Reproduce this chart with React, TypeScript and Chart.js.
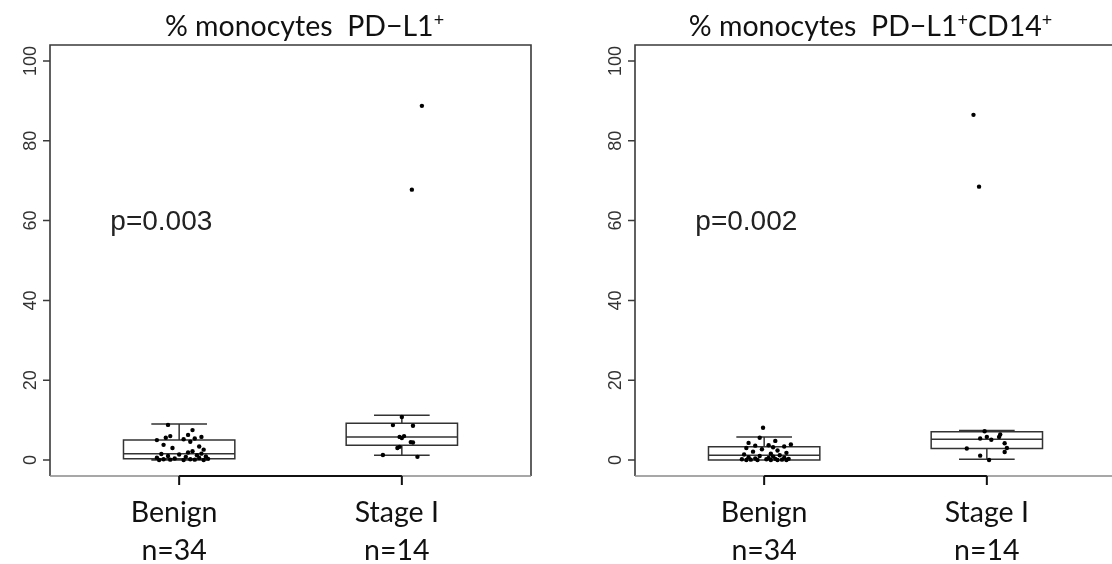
import React, { useEffect, useRef } from "react";
import { Chart, registerables } from "chart.js";

Chart.register(...registerables);

// ---------- data ----------
const categories = ["Benign", "Stage I"];
const groupSizes = ["n=34", "n=14"];
const yTicks = [0, 20, 40, 60, 80, 100];

// Panel 1: % monocytes PD-L1+
const p1BenignValues = [0, 0, 0, 0.1, 0.1, 0.2, 0.2, 0.3, 0.4, 0.5, 0.6, 0.8, 0.9, 1.0, 1.2, 1.4, 1.5, 1.6, 1.9, 2.2, 2.6, 3.0, 3.4, 3.8, 4.6, 5.0, 5.2, 5.4, 5.6, 5.8, 6.0, 6.3, 7.5, 8.8];
const p1BenignJitter = [-0.09, 0.02, 0.11, -0.04, 0.07, -0.07, 0.05, 0.13, -0.02, 0.09, -0.1, 0.03, 0.12, -0.05, 0.08, 0.0, -0.08, 0.1, 0.04, 0.06, 0.11, -0.03, 0.09, -0.07, 0.05, -0.1, 0.02, 0.07, -0.06, 0.1, -0.04, 0.04, 0.06, -0.05];
const p1StageValues = [0.8, 1.25, 3.0, 3.3, 4.4, 4.5, 5.5, 5.8, 6.0, 8.6, 8.75, 10.8, 67.75, 88.75];
const p1StageJitter = [0.07, -0.085, -0.02, -0.01, 0.05, 0.04, 0.0, -0.01, 0.01, 0.05, -0.04, 0.0, 0.045, 0.09];
// [lower whisker, Q1, median, Q3, upper whisker]
const p1BenignBox = [0, 0.3, 1.6, 5.0, 9.0];
const p1StageBox = [1.2, 3.7, 5.8, 9.2, 11.2];
const p1PValue = "p=0.003";

// Panel 2: % monocytes PD-L1+CD14+
const p2BenignValues = [0, 0, 0, 0, 0, 0.1, 0.1, 0.2, 0.2, 0.3, 0.3, 0.4, 0.5, 0.6, 0.7, 0.9, 1.0, 1.2, 1.4, 1.6, 1.8, 2.1, 2.4, 2.7, 3.0, 3.2, 3.4, 3.6, 3.7, 3.9, 4.3, 4.8, 5.6, 8.1];
const p2BenignJitter = [-0.08, 0.03, 0.1, -0.03, 0.06, -0.06, 0.08, 0.01, -0.1, 0.05, 0.11, -0.04, 0.02, 0.09, -0.07, 0.04, -0.02, 0.07, -0.09, 0.03, 0.1, -0.05, 0.06, -0.01, -0.08, 0.04, 0.09, -0.04, 0.02, 0.12, -0.07, 0.05, -0.02, -0.005];
const p2StageValues = [0, 1.1, 2.0, 2.9, 3.0, 4.2, 5.1, 5.4, 5.8, 5.8, 6.4, 7.2, 68.5, 86.5];
const p2StageJitter = [0.01, -0.03, 0.08, -0.09, 0.09, 0.08, 0.02, -0.03, 0.0, 0.055, 0.06, -0.01, -0.035, -0.06];
const p2BenignBox = [0, 0, 1.2, 3.3, 5.8];
const p2StageBox = [0.2, 2.9, 5.2, 7.1, 7.4];
const p2PValue = "p=0.002";

// ---------- drawing ----------
type Seg = { t: string; sup?: boolean };

interface PanelCfg {
  title: Seg[];
  titleShift: number;
  labelShift: number;
  benign: number[];
  benignJ: number[];
  stage: number[];
  stageJ: number[];
  boxes: number[][];
  pValue: string;
  padding: { left: number; right: number; top: number; bottom: number };
}

const TITLE_FONT = "Lato, 'Open Sans', sans-serif";
const BODY_FONT = "'Liberation Sans', Arial, sans-serif";

function panelPlugin(cfg: PanelCfg) {
  return {
    id: "rbox",
    beforeDatasetsDraw(chart: any) {
      const ctx: CanvasRenderingContext2D = chart.ctx;
      const { left, right, top, bottom } = chart.chartArea;
      const xs = chart.scales.x;
      const ys = chart.scales.y;
      ctx.save();
      // frame
      ctx.strokeStyle = "#3a3a3a";
      ctx.lineWidth = 1.6;
      ctx.beginPath();
      ctx.moveTo(left, bottom);
      ctx.lineTo(left, top);
      ctx.lineTo(right, top);
      ctx.lineTo(right, bottom);
      ctx.stroke();
      ctx.strokeStyle = "#8a8a8a";
      ctx.beginPath();
      ctx.moveTo(left, bottom);
      ctx.lineTo(right, bottom);
      ctx.stroke();
      // x axis (between first and last category)
      const x1 = xs.getPixelForValue(1);
      const x2 = xs.getPixelForValue(categories.length);
      ctx.strokeStyle = "#111";
      ctx.lineWidth = 2;
      ctx.beginPath();
      ctx.moveTo(x1, bottom);
      ctx.lineTo(x2, bottom);
      categories.forEach((_, i) => {
        const x = xs.getPixelForValue(i + 1);
        ctx.moveTo(x, bottom);
        ctx.lineTo(x, bottom + 9);
      });
      ctx.stroke();
      // y ticks
      ctx.strokeStyle = "#3a3a3a";
      ctx.lineWidth = 1.5;
      ctx.beginPath();
      yTicks.forEach((v) => {
        const y = ys.getPixelForValue(v);
        ctx.moveTo(left, y);
        ctx.lineTo(left - 7, y);
      });
      ctx.stroke();
      // boxes
      ctx.strokeStyle = "#333";
      ctx.lineWidth = 1.5;
      cfg.boxes.forEach((b, i) => {
        const c = i + 1;
        const bl = xs.getPixelForValue(c - 0.25);
        const br = xs.getPixelForValue(c + 0.25);
        const sl = xs.getPixelForValue(c - 0.125);
        const sr = xs.getPixelForValue(c + 0.125);
        const cx = xs.getPixelForValue(c);
        const [lw, q1, med, q3, uw] = b.map((v) => ys.getPixelForValue(v));
        ctx.fillStyle = "#fff";
        ctx.fillRect(bl, q3, br - bl, q1 - q3);
        ctx.beginPath();
        ctx.rect(bl, q3, br - bl, q1 - q3);
        ctx.moveTo(bl, med);
        ctx.lineTo(br, med);
        // whiskers
        ctx.moveTo(cx, q3);
        ctx.lineTo(cx, uw);
        ctx.moveTo(cx, q1);
        ctx.lineTo(cx, lw);
        ctx.moveTo(sl, uw);
        ctx.lineTo(sr, uw);
        ctx.moveTo(sl, lw);
        ctx.lineTo(sr, lw);
        ctx.stroke();
      });
      ctx.restore();
    },
    afterDraw(chart: any) {
      const ctx: CanvasRenderingContext2D = chart.ctx;
      const { left, right, top, bottom } = chart.chartArea;
      const xs = chart.scales.x;
      const ys = chart.scales.y;
      ctx.save();
      // y tick labels (rotated)
      ctx.fillStyle = "#333";
      ctx.font = `18px ${BODY_FONT}`;
      ctx.textAlign = "center";
      ctx.textBaseline = "middle";
      yTicks.forEach((v) => {
        const y = ys.getPixelForValue(v);
        ctx.save();
        ctx.translate(left - 14, y);
        ctx.rotate(-Math.PI / 2);
        ctx.fillText(String(v), 0, -5);
        ctx.restore();
      });
      // category labels
      ctx.fillStyle = "#111";
      ctx.font = `28.5px ${TITLE_FONT}`;
      ctx.textBaseline = "alphabetic";
      categories.forEach((c, i) => {
        const x = xs.getPixelForValue(i + 1) + cfg.labelShift;
        ctx.fillText(c, x, bottom + 46);
        ctx.fillText(groupSizes[i], x, bottom + 84);
      });
      // p-value
      ctx.font = `28px ${BODY_FONT}`;
      ctx.fillStyle = "#222";
      ctx.textBaseline = "middle";
      ctx.fillText(cfg.pValue, xs.getPixelForValue(0.92), ys.getPixelForValue(59.5));
      // title with superscripts
      const mainSize = 28.5;
      const supSize = 18;
      let total = 0;
      cfg.title.forEach((s) => {
        ctx.font = `${s.sup ? supSize : mainSize}px ${TITLE_FONT}`;
        total += ctx.measureText(s.t).width;
      });
      let x = (left + right) / 2 + cfg.titleShift - total / 2;
      ctx.textAlign = "left";
      ctx.textBaseline = "alphabetic";
      ctx.fillStyle = "#111";
      cfg.title.forEach((s) => {
        ctx.font = `${s.sup ? supSize : mainSize}px ${TITLE_FONT}`;
        ctx.fillText(s.t, x, s.sup ? top - 19 : top - 9);
        x += ctx.measureText(s.t).width;
      });
      ctx.restore();
    },
  };
}

function Panel({ cfg, width, height }: { cfg: PanelCfg; width: number; height: number }) {
  const ref = useRef<HTMLCanvasElement | null>(null);
  useEffect(() => {
    if (!ref.current) return;
    const pts = (vals: number[], jit: number[], c: number) =>
      vals.map((v, i) => ({ x: c + jit[i], y: v }));
    const chart = new Chart(ref.current, {
      type: "scatter",
      data: {
        datasets: [
          { data: pts(cfg.benign, cfg.benignJ, 1), backgroundColor: "#000", borderColor: "#000", pointRadius: 2.2, borderWidth: 0 },
          { data: pts(cfg.stage, cfg.stageJ, 2), backgroundColor: "#000", borderColor: "#000", pointRadius: 2.2, borderWidth: 0 },
        ],
      },
      options: {
        responsive: false,
        animation: false,
        events: [],
        layout: { padding: cfg.padding },
        plugins: { legend: { display: false }, tooltip: { enabled: false }, title: { display: false } },
        scales: {
          x: { type: "linear", min: 0.42, max: 2.58, display: false },
          y: { type: "linear", min: -4, max: 104, display: false },
        },
      },
      plugins: [panelPlugin(cfg) as any],
    });
    return () => chart.destroy();
  }, [cfg]);
  return <canvas ref={ref} width={width} height={height} style={{ width, height, display: "block" }} />;
}

const panel1: PanelCfg = {
  title: [{ t: "% monocytes  PD\u2212L1" }, { t: "+", sup: true }],
  titleShift: 14,
  labelShift: -5,
  benign: p1BenignValues,
  benignJ: p1BenignJitter,
  stage: p1StageValues,
  stageJ: p1StageJitter,
  boxes: [p1BenignBox, p1StageBox],
  pValue: p1PValue,
  padding: { left: 50, right: 25, top: 45, bottom: 88 },
};

const panel2: PanelCfg = {
  title: [{ t: "% monocytes  PD\u2212L1" }, { t: "+", sup: true }, { t: "CD14" }, { t: "+", sup: true }],
  titleShift: -5,
  labelShift: 0,
  benign: p2BenignValues,
  benignJ: p2BenignJitter,
  stage: p2StageValues,
  stageJ: p2StageJitter,
  boxes: [p2BenignBox, p2StageBox],
  pValue: p2PValue,
  padding: { left: 79, right: 40, top: 45, bottom: 88 },
};

export default function App() {
  return (
    <div style={{ position: "fixed", left: 0, top: 0, width: 1112, height: 564, overflow: "hidden", background: "#fff" }}>
      <div style={{ position: "absolute", left: 0, top: 0 }}>
        <Panel cfg={panel1} width={556} height={564} />
      </div>
      <div style={{ position: "absolute", left: 556, top: 0 }}>
        <Panel cfg={panel2} width={600} height={564} />
      </div>
    </div>
  );
}
